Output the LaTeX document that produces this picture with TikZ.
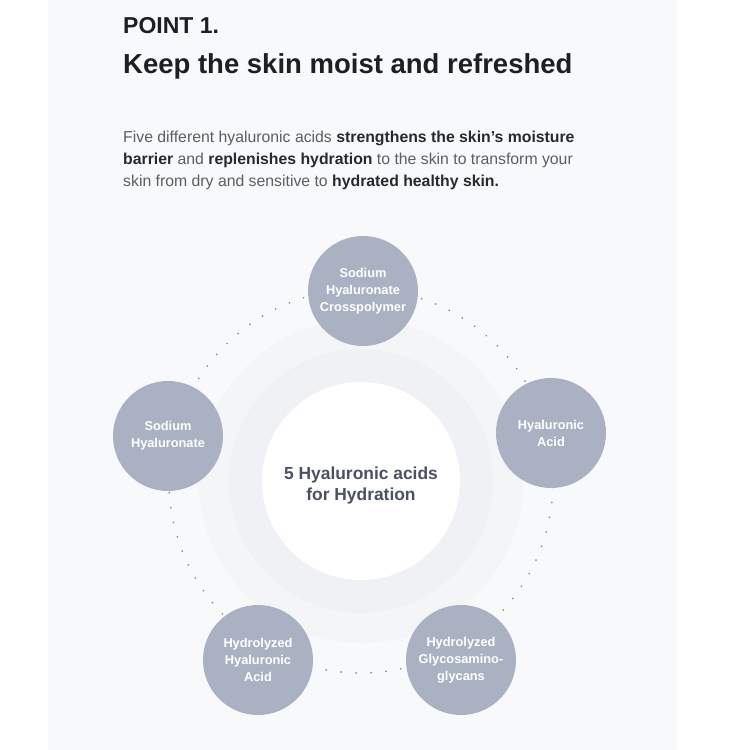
\documentclass[tikz,border=0pt]{standalone}
\usepackage{fontspec}
\setmainfont{Liberation Sans}
\usepackage{xcolor}

\definecolor{panelbg}{HTML}{F8F9FB}
\definecolor{haloout}{HTML}{F4F5F7}
\definecolor{haloin}{HTML}{F0F1F4}
\definecolor{bubblefill}{HTML}{AAB1C3}
\definecolor{hubtext}{HTML}{4A5161}
\definecolor{dotgray}{HTML}{868B94}
\definecolor{titletext}{HTML}{1E1F22}
\definecolor{bodytext}{HTML}{5A5E66}
\definecolor{boldtext}{HTML}{26292E}

\newcommand{\strongtxt}[1]{{\bfseries\color{boldtext}#1}}

\begin{document}
\begin{tikzpicture}[x=1pt,y=-1pt,
  bubble/.style={circle,fill=bubblefill,minimum size=110pt,inner sep=0pt,
    align=center,text=white,font=\fontsize{12.8}{17}\selectfont\bfseries},
  hub/.style={circle,fill=white,minimum size=198pt,inner sep=0pt},
  hubtxt/.style={align=center,inner sep=0pt,text=hubtext,
    font=\fontsize{17.4}{21}\selectfont\bfseries},
  ringdots/.style={draw=dotgray,line width=1.9pt,line cap=round,
    dash pattern=on 0pt off 15pt},
  txt/.style={anchor=base west,inner sep=0pt}]

% page and panel
\fill[white] (0,0) rectangle (750,750);
\fill[panelbg] (48,0) rectangle (677,750);
\useasboundingbox (0,0) rectangle (750,750);

% heading
\node[txt,text=titletext,font=\fontsize{23}{27}\selectfont\bfseries] (point) at (123,33) {POINT 1.};
\node[txt,text=titletext,font=\fontsize{27.5}{33}\selectfont\bfseries] (title) at (123,73) {Keep the skin moist and refreshed};

% intro text
\node[txt,text=bodytext,font=\fontsize{15.8}{21.7}\selectfont] (para1) at (123,142.7)
  {Five different hyaluronic acids \strongtxt{strengthens the skin’s moisture}};
\node[txt,text=bodytext,font=\fontsize{15.8}{21.7}\selectfont] (para2) at (123,164.3)
  {\strongtxt{barrier} and \strongtxt{replenishes hydration} to the skin to transform your};
\node[txt,text=bodytext,font=\fontsize{15.8}{21.7}\selectfont] (para3) at (123,186)
  {skin from dry and sensitive to \strongtxt{hydrated healthy skin.}};

% halo and dotted ring
\coordinate (c) at (361,481);
\fill[haloout] (c) circle (162pt);
\fill[haloin] (c) circle (132pt);
\draw[ringdots] (c) circle (192pt);

\node[hub] (hub) at (c) {};
\node[hubtxt] (hublabel) at (361,485) {5 Hyaluronic acids\\for Hydration};

% the five acids
\node[bubble] (shc) at (363,291) {Sodium\\Hyaluronate\\Crosspolymer};
\node[bubble] (ha) at (551,433) {Hyaluronic\\Acid};
\node[bubble] (hg) at (461,660) {Hydrolyzed\\Glycosamino-\\glycans};
\node[bubble] (hha) at (258,660) {Hydrolyzed\\Hyaluronic\\Acid};
\node[bubble] (sh) at (168,436) {Sodium\\Hyaluronate};
\end{tikzpicture}
\end{document}
